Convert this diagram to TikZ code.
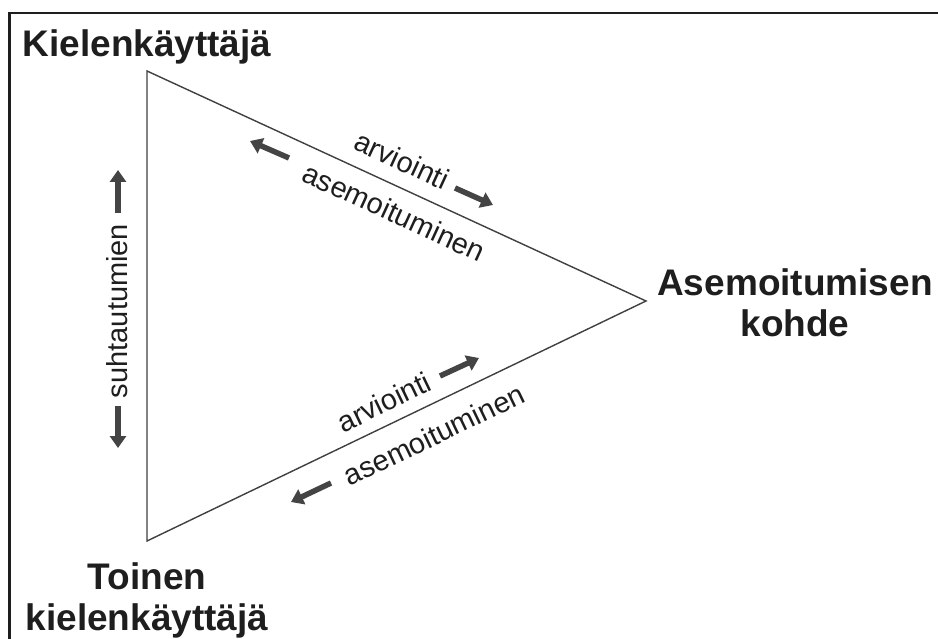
\documentclass[tikz,border=0pt]{standalone}
\usepackage{fontspec}
\setmainfont{Liberation Sans}
\usetikzlibrary{arrows.meta}
\definecolor{ink}{HTML}{1E1E1E}
\definecolor{arrowgray}{HTML}{444444}
\tikzset{
  title/.style={font=\bfseries\fontsize{37}{41}\selectfont, text=ink, align=center, inner sep=0pt},
  lbl/.style={font=\fontsize{29}{32}\selectfont, text=ink, inner sep=0pt},
  edge/.style={draw=ink!85, line width=1.4pt},
  fatarrow/.style={draw=arrowgray, line width=5.5pt, -{Triangle[length=12pt,width=16pt]}}
}
\begin{document}
\begin{tikzpicture}[x=1pt,y=-1pt]
\useasboundingbox (0,0) rectangle (938,639);
\fill[white] (0,0) rectangle (938,639);
% frame
\draw[ink, line width=2.6pt] (940,13) -- (9.5,13) -- (9.5,642);
% vertices
\coordinate (A) at (147,71);
\coordinate (B) at (147,541);
\coordinate (C) at (646,301);
\draw[edge, line join=miter] (A) -- (C) -- (B) -- cycle;
% titles
\node[title, anchor=base] (t1) at (147,57) {Kielenkäyttäjä};
\node[title, anchor=base] (t2) at (795,337) {Asemoitumisen\\kohde};
\node[title, anchor=base] (t3) at (147,630) {Toinen\\kielenkäyttäjä};
% upper edge labels
\node[lbl, rotate=-24.7] (u1) at (402,160) {arviointi};
\node[lbl, rotate=-24.7] (u2) at (394,212) {asemoituminen};
\coordinate (ua1s) at (289,158); \coordinate (ua1e) at (250,141);
\coordinate (ua2s) at (455,188); \coordinate (ua2e) at (493,205);
\draw[fatarrow] (ua1s) -- (ua1e);
\draw[fatarrow] (ua2s) -- (ua2e);
% lower edge labels
\node[lbl, rotate=25.7] (l1) at (384,402) {arviointi};
\node[lbl, rotate=25.7] (l2) at (434,435) {asemoituminen};
\coordinate (la1s) at (440,376); \coordinate (la1e) at (479,358);
\coordinate (la2s) at (331,483); \coordinate (la2e) at (291,502);
\draw[fatarrow] (la1s) -- (la1e);
\draw[fatarrow] (la2s) -- (la2e);
% left label
\node[lbl, rotate=90] (s1) at (117,311) {suhtautumien};
\coordinate (sa1s) at (118,213); \coordinate (sa1e) at (118,170);
\coordinate (sa2s) at (118,406); \coordinate (sa2e) at (118,448);
\draw[fatarrow] (sa1s) -- (sa1e);
\draw[fatarrow] (sa2s) -- (sa2e);
\end{tikzpicture}
\end{document}
